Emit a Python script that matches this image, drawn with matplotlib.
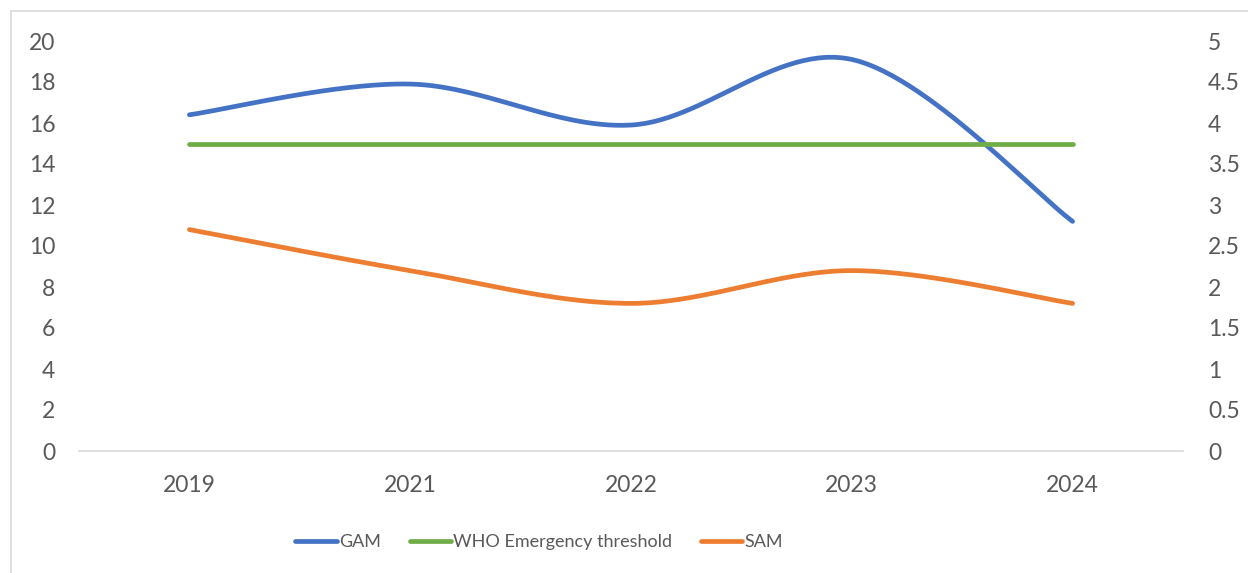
import numpy as np
import matplotlib.pyplot as plt
from matplotlib.patches import Rectangle

years = ["2019", "2021", "2022", "2023", "2024"]
gam = [16.4, 17.9, 15.9, 19.1, 11.2]
who_threshold = [15, 15, 15, 15, 15]
sam = [2.7, 2.2, 1.8, 2.2, 1.8]

TEXT = "#595959"
plt.rcParams['font.family'] = ['Lato', 'DejaVu Sans']


def smooth(xs, ys, n=60):
    # bezier curve through every point, same idea as a spreadsheet "smoothed line"
    xs = np.asarray(xs, float)
    ys = np.asarray(ys, float)
    px = np.concatenate([[xs[0]], xs, [xs[-1]]])
    py = np.concatenate([[ys[0]], ys, [ys[-1]]])
    out_x, out_y = [], []
    t = np.linspace(0, 1, n)
    for i in range(1, len(px) - 2):
        p0 = np.array([px[i], py[i]])
        p3 = np.array([px[i + 1], py[i + 1]])
        c1 = p0 + (np.array([px[i + 1], py[i + 1]]) - np.array([px[i - 1], py[i - 1]])) / 6
        c2 = p3 - (np.array([px[i + 2], py[i + 2]]) - np.array([px[i], py[i]])) / 6
        b = ((1 - t) ** 3)[:, None] * p0 + (3 * (1 - t) ** 2 * t)[:, None] * c1 \
            + (3 * (1 - t) * t ** 2)[:, None] * c2 + (t ** 3)[:, None] * p3
        out_x.extend(b[:, 0])
        out_y.extend(b[:, 1])
    return out_x, out_y


x = np.arange(len(years))

fig = plt.figure(figsize=(12.48, 5.73), dpi=100)
ax = fig.add_axes([79 / 1248, 1 - 451 / 573, (1183 - 79) / 1248, (451 - 41) / 573])
ax2 = ax.twinx()

lw = 3.4
gx, gy = smooth(x, gam)
l1, = ax.plot(gx, gy, color="#4472C4", lw=lw, solid_capstyle="round", label="GAM")
l2, = ax.plot(x, who_threshold, color="#70AD47", lw=lw, solid_capstyle="round",
              label="WHO Emergency threshold")
sx, sy = smooth(x, sam)
l3, = ax2.plot(sx, sy, color="#ED7D31", lw=lw, solid_capstyle="round", label="SAM")

ax.set_xlim(-0.5, len(years) - 0.5)
ax.set_ylim(0, 20)
ax.set_yticks(range(0, 21, 2))
ax2.set_ylim(0, 5)
ax2.set_yticks(np.arange(0, 5.01, 0.5))
ax2.set_yticklabels([f"{v:g}" for v in np.arange(0, 5.01, 0.5)])
ax.set_xticks(x)
ax.set_xticklabels(years)

for a in (ax, ax2):
    for s in a.spines.values():
        s.set_visible(False)
    a.tick_params(length=0, labelsize=16.5, colors=TEXT)
ax.spines["bottom"].set_visible(True)
ax.spines["bottom"].set_color("#D9D9D9")
ax.spines["bottom"].set_linewidth(1.2)
ax.tick_params(axis="y", pad=17)
ax.tick_params(axis="x", pad=17)
ax2.tick_params(axis="y", pad=18)

fig.legend(handles=[l1, l2, l3], loc="center", bbox_to_anchor=(539 / 1248, 1 - 542 / 573),
           ncol=3, frameon=False, fontsize=13, handlelength=2.3, handletextpad=0.1,
           columnspacing=1.6, labelcolor=TEXT)

# light chart border
fig.patches.append(Rectangle((11 / 1248, -0.05), 1.1, 1 - 11 / 573 + 0.05,
                             transform=fig.transFigure, fill=False,
                             edgecolor="#D9D9D9", lw=1.2))

fig.savefig("out.png", dpi=100)
